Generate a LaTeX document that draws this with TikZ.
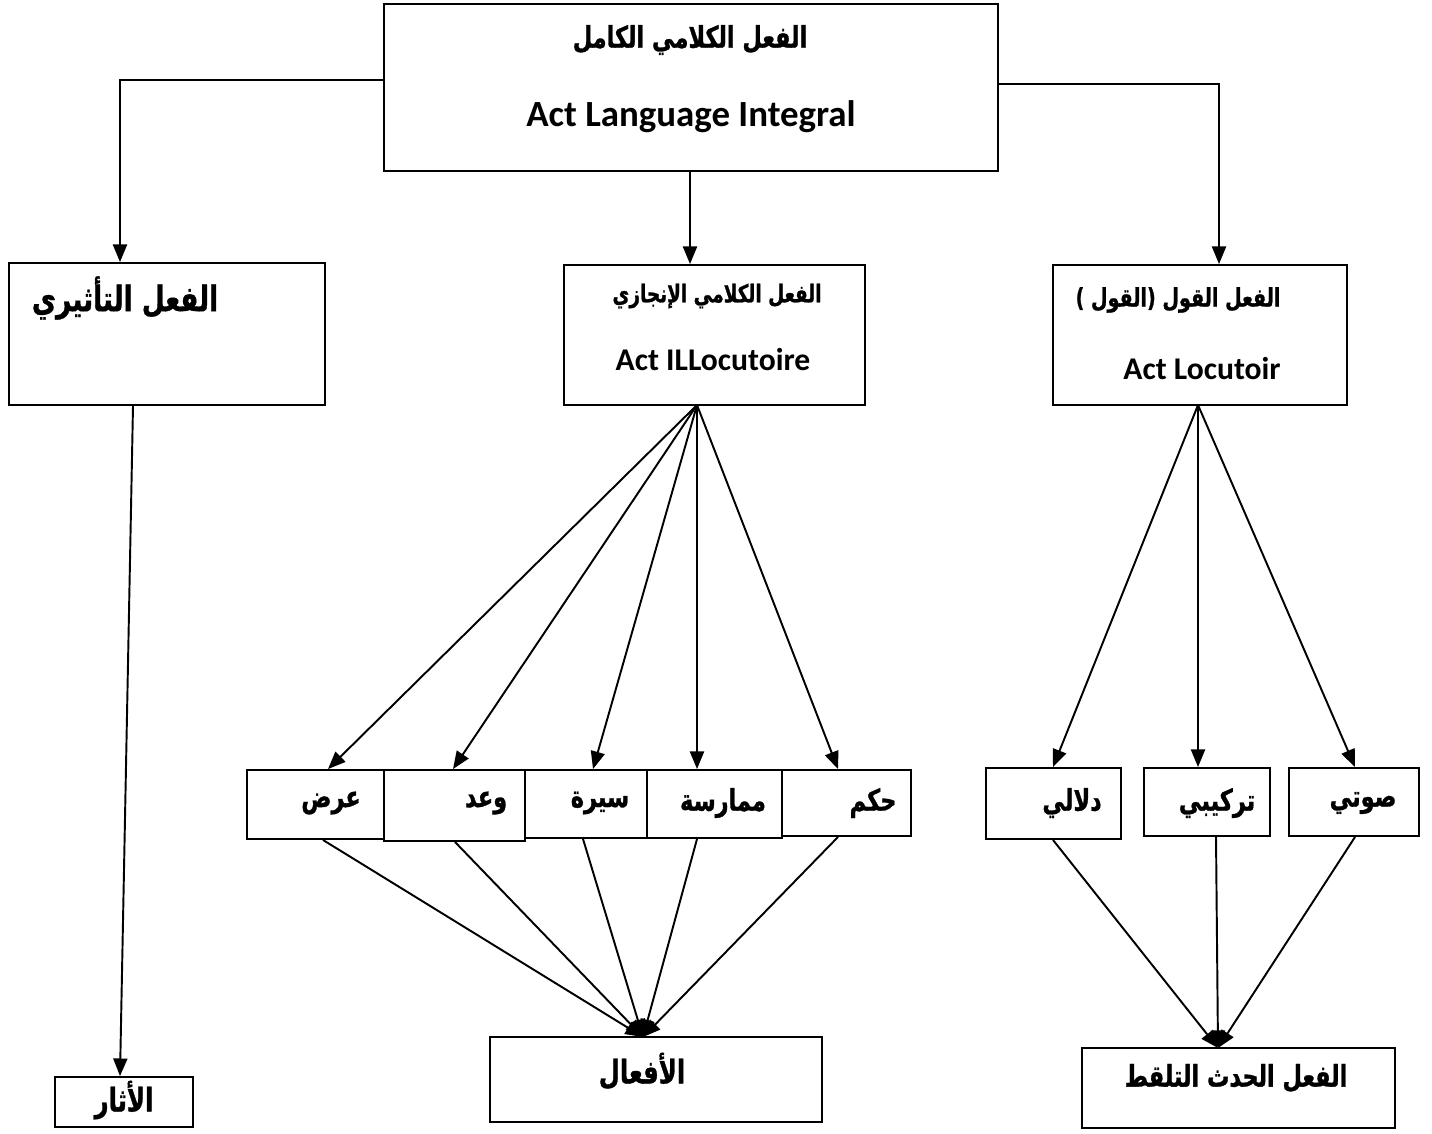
\documentclass[tikz,border=0pt]{standalone}
\usepackage{fontspec}
\setmainfont{Carlito}
\newfontfamily\arabicfont[Script=Arabic, FakeStretch=0.75, BoldFeatures={FakeBold=1}]{DejaVu Sans}
\TeXXeTstate=1
\usepackage{tikz}
\usetikzlibrary{arrows.meta,fit}

\newcommand{\artext}[1]{\beginR #1\endR}

\tikzset{
  box/.style={draw, line width=1.1pt, inner sep=0pt},
  ar/.style={inner sep=0pt, font={\fontsize{#1}{#1}\arabicfont\bfseries}},
  en/.style={inner sep=0pt, font={\fontsize{#1}{#1}\selectfont\bfseries}},
  link/.style={line width=1.1pt, -{Triangle[length=10pt,width=8pt]}},
}

\begin{document}
\begin{tikzpicture}[x=0.02cm, y=-0.02cm]
\useasboundingbox (0,0) rectangle (1432,1133);

% boxes
\node[box, fit={(384,4) (998,171)}] (whole) {};
\node[box, fit={(9,263) (325,405)}] (perl) {};
\node[box, fit={(564,265) (865,405)}] (illoc) {};
\node[box, fit={(1053,265) (1347,405)}] (loc) {};

\node[box, fit={(247,770) (384,839)}] (ard) {};
\node[box, fit={(384,770) (525,841)}] (waad) {};
\node[box, fit={(525,770) (647,838)}] (sira) {};
\node[box, fit={(647,770) (782,838)}] (mumarasa) {};
\node[box, fit={(782,770) (911,836)}] (hukm) {};

\node[box, fit={(986,768) (1121,839)}] (dalali) {};
\node[box, fit={(1144,768) (1270,836)}] (tarkibi) {};
\node[box, fit={(1289,768) (1419,836)}] (sawti) {};

\node[box, fit={(55,1077) (193,1127)}] (athar) {};
\node[box, fit={(490,1037) (822,1122)}] (afaal) {};
\node[box, fit={(1082,1048) (1395,1128)}] (hadath) {};

% texts
\node[ar=17] (wholeAr) at (690,40) {\artext{الفعل الكلامي الكامل}};
\node[en=21] (wholeEn) at (691,117) {Act Language Integral};
\node[ar=20] (perlAr) at (125,298) {\artext{الفعل التأثيري}};
\node[ar=14] (illocAr) at (717,296) {\artext{الفعل الكلامي الإنجازي}};
\node[en=18] (illocEn) at (713,360) {Act ILLocutoire};
\node[ar=14.5] (locAr) at (1178,300) {\artext{الفعل القول (القول )}};
\node[en=18] (locEn) at (1202,369) {Act Locutoir};

\node[ar=17] (ardT) at (331,803) {\artext{عرض}};
\node[ar=17] (waadT) at (486,803) {\artext{وعد}};
\node[ar=17] (siraT) at (600,803) {\artext{سيرة}};
\node[ar=17] (mumarasaT) at (723,803) {\artext{ممارسة}};
\node[ar=17] (hukmT) at (873,803) {\artext{حكم}};
\node[ar=17] (dalaliT) at (1072,803) {\artext{دلالي}};
\node[ar=17] (tarkibiT) at (1217,803) {\artext{تركيبي}};
\node[ar=17] (sawtiT) at (1363,803) {\artext{صوتي}};

\node[ar=18.5] (atharT) at (124,1100) {\artext{الأثار}};
\node[ar=18.5] (afaalT) at (642,1071) {\artext{الأفعال}};
\node[ar=17] (hadathT) at (1236,1078) {\artext{الفعل الحدث التلقط}};

% top connectors
\coordinate (lknee) at (120,80);
\coordinate (rknee) at (1219,84);
\draw[link] (whole.west |- lknee) -- (lknee) -- (lknee |- perl.north);
\draw[link] (whole.east |- rknee) -- (rknee) -- (rknee |- loc.north);
\draw[link] (whole.south -| 690,0) -- (illoc.north -| 690,0);

% left column
\draw[link] (perl.south -| 133,0) -- (athar.north -| 120,0);

% illocutionary fan
\coordinate (ifan) at (697,405);
\draw[link] (ifan) -- (ard.north -| 328,0);
\draw[link] (ifan) -- (waad.north -| 453,0);
\draw[link] (ifan) -- (sira.north -| 593,0);
\draw[link] (ifan) -- (mumarasa.north -| 697,0);
\draw[link] (ifan) -- (hukm.north -| 838,0);

\coordinate (ifoot) at (643,1037);
\draw[link] (ard.south -| 323,0) -- (ifoot);
\draw[link] (waad.south -| 455,0) -- (ifoot);
\draw[link] (sira.south -| 583,0) -- (ifoot);
\draw[link] (mumarasa.south -| 697,0) -- (ifoot);
\draw[link] (hukm.south -| 838,0) -- (ifoot);

% locutionary fan
\coordinate (lfan) at (1198,405);
\draw[link] (lfan) -- (dalali.north -| 1053,0);
\draw[link] (lfan) -- (tarkibi.north -| 1198,0);
\draw[link] (lfan) -- (sawti.north -| 1355,0);

\coordinate (lfoot) at (1218,1048);
\draw[link] (dalali.south -| 1053,0) -- (lfoot);
\draw[link] (tarkibi.south -| 1216,0) -- (lfoot);
\draw[link] (sawti.south -| 1355,0) -- (lfoot);
\end{tikzpicture}
\end{document}
